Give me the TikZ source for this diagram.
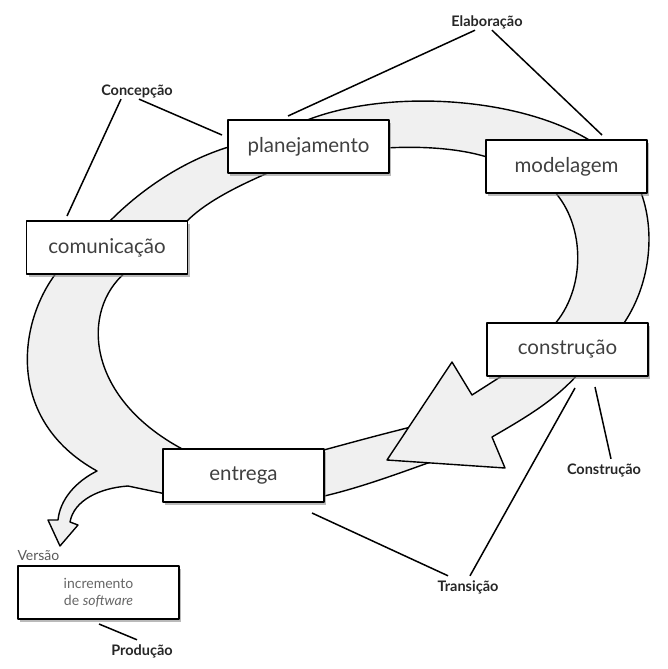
\documentclass[tikz,border=0pt]{standalone}
\usepackage{fontspec}
\setmainfont{Lato}
\usetikzlibrary{shadows}

\begin{document}
\begin{tikzpicture}[x=1pt,y=-1pt,line join=round,
  band/.style={fill=black!6,draw=black,line width=1.4pt},
  fase/.style={draw=black,line width=1.4pt,fill=white,minimum width=161pt,minimum height=53pt,
    font=\fontsize{20.5}{24}\selectfont,text=black!75,
    drop shadow={shadow xshift=2pt,shadow yshift=-2.5pt,fill=black!45,opacity=0.6}},
  marco/.style={font=\fontsize{14.5}{16}\selectfont\bfseries,text=black!85},
  liga/.style={line width=1.5pt}]
\useasboundingbox (0,0) rectangle (668,669);
% faixa: comunicacao -> planejamento
\path[band] (108,223) .. controls (145,185) and (190,158) .. (232,146) -- (270,172)
  .. controls (238,186) and (205,202) .. (185,223) -- cycle;
% faixa: planejamento -> modelagem
\path[band] (300,123) .. controls (380,88) and (520,95) .. (594,143) -- (490,158)
  .. controls (460,148) and (420,146) .. (386,148) -- cycle;
% faixa: modelagem -> construcao
\path[band] (640,190) .. controls (656,230) and (651,285) .. (622,326) -- (553,326)
  .. controls (586,290) and (586,225) .. (553,190) -- cycle;
% faixa: entrega -> sob a seta
\path[band] (320,451) .. controls (350,443) and (385,433) .. (440,420) -- (450,455)
  .. controls (400,473) and (360,488) .. (320,497) -- cycle;
% seta: construcao -> entrega
\path[band] (508,372) -- (472,395) -- (452,362) -- (387,460) -- (505,468) -- (492,437)
  .. controls (530,415) and (555,400) .. (580,372) -- cycle;
% faixa: entrega -> comunicacao, com a seta da versao
\path[band] (57,272) .. controls (18,322) and (5,420) .. (97,471)
  .. controls (75,482) and (60,500) .. (58,520) -- (48,520) -- (60,546) -- (78,525) -- (70,522)
  .. controls (74,500) and (100,488) .. (128,486) -- (166,494) -- (188,452)
  .. controls (85,400) and (80,310) .. (126,272) -- cycle;
% fases
\node[fase] (comunic) at (107,247.5) {comunicação};
\node[fase] (planej) at (308.5,146.5) {planejamento};
\node[fase] (model) at (566.5,166.5) {modelagem};
\node[fase] (constr) at (567.5,349.5) {construção};
\node[fase] (entrega) at (243.5,475.5) {entrega};
\node[fase,font=\fontsize{14}{17}\selectfont,text=black!60,align=center] (increm) at (98.5,592.5)
  {incremento\\de \textit{software}};
\node[anchor=west,font=\fontsize{14}{16}\selectfont,text=black!65] (versao) at (14,556) {Versão};
% marcos
\node[marco] (concep) at (137,91) {Concepção};
\node[marco] (elabor) at (487,22) {Elaboração};
\node[marco] (constrm) at (604,470) {Construção};
\node[marco] (trans) at (468,587) {Transição};
\node[marco] (produc) at (142,651) {Produção};
% pontas das ligacoes
\coordinate (p1) at (67,216);
\coordinate (p2) at (222,135);
\coordinate (p3) at (288,116);
\coordinate (p4) at (602,135);
\coordinate (p5) at (595,387);
\coordinate (p6) at (575,388);
\coordinate (p7) at (312,513);
\coordinate (p8) at (99,624);
\draw[liga] ([xshift=-16pt,yshift=2pt]concep.south) -- (p1);
\draw[liga] ([xshift=2pt,yshift=2pt]concep.south) -- (p2);
\draw[liga] ([xshift=-12pt,yshift=2pt]elabor.south) -- (p3);
\draw[liga] ([xshift=5pt,yshift=2pt]elabor.south) -- (p4);
\draw[liga] ([xshift=7pt,yshift=1pt]constrm.north) -- (p5);
\draw[liga] ([xshift=2pt,yshift=1pt]trans.north) -- (p6);
\draw[liga] ([xshift=-20pt,yshift=1pt]trans.north) -- (p7);
\draw[liga] ([xshift=-5pt,yshift=1pt]produc.north) -- (p8);
\end{tikzpicture}
\end{document}
